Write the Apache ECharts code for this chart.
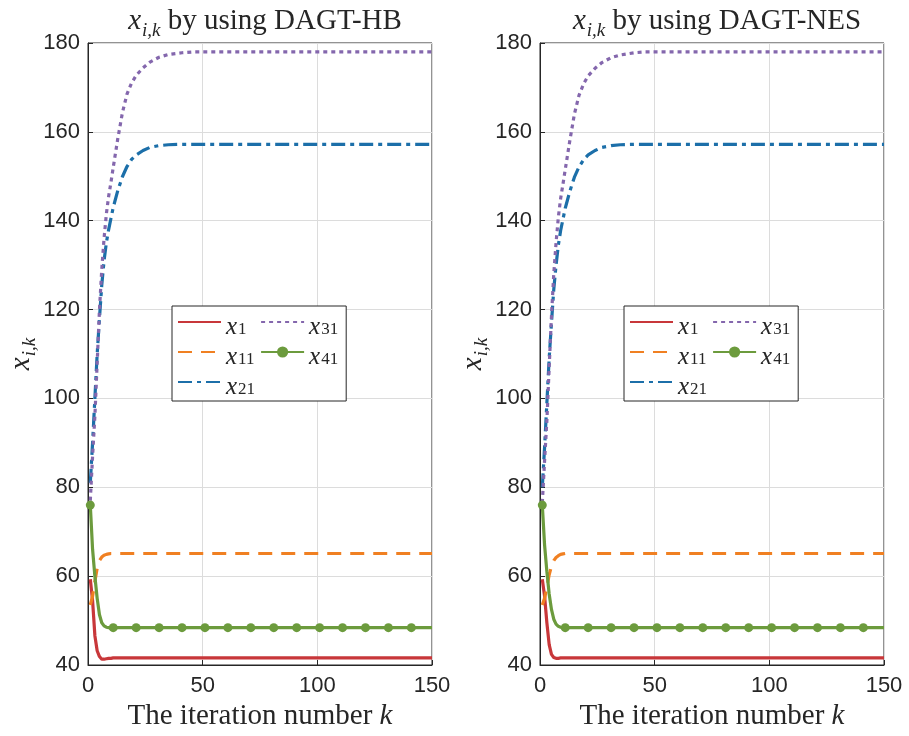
<!DOCTYPE html>
<html>
<head>
<meta charset="utf-8">
<script src="https://cdn.jsdelivr.net/npm/echarts@6/dist/echarts.min.js"></script>
<style>
  html, body { margin: 0; padding: 0; background: #fff; }
  #main { width: 909px; height: 736px; }
</style>
</head>
<body>
<div id="main"></div>
<script>
var kSteps = [1, 2, 3, 4, 5, 6, 7, 8, 9, 10, 11, 13, 15, 17, 19, 21, 24, 27, 31, 35, 41, 46, 51, 61, 71, 81, 91, 101, 111, 121, 131, 141, 150];
// iterations where x41 carries a marker
var markK = [1, 11, 21, 31, 41, 51, 61, 71, 81, 91, 101, 111, 121, 131, 141];

var xTicks = [0, 50, 100, 150];
var yTicks = [40, 60, 80, 100, 120, 140, 160, 180];

// DAGT-HB
var x1HB  = [59.3, 54.5, 46.6, 43.2, 41.9, 41.3, 41.3, 41.4, 41.5, 41.5, 41.6, 41.6, 41.6, 41.6, 41.6, 41.6, 41.6, 41.6, 41.6, 41.6, 41.6, 41.6, 41.6, 41.6, 41.6, 41.6, 41.6, 41.6, 41.6, 41.6, 41.6, 41.6, 41.6];
var x11HB = [53.5, 55.5, 58.8, 61.8, 63.5, 64.3, 64.7, 64.9, 65.0, 65.1, 65.1, 65.1, 65.1, 65.1, 65.1, 65.1, 65.1, 65.1, 65.1, 65.1, 65.1, 65.1, 65.1, 65.1, 65.1, 65.1, 65.1, 65.1, 65.1, 65.1, 65.1, 65.1, 65.1];
var x21HB = [81, 90, 100, 110, 118, 125.5, 131, 135, 138, 140.5, 143, 146.8, 149.9, 152.2, 153.8, 154.8, 155.8, 156.5, 156.9, 157.1, 157.2, 157.2, 157.2, 157.2, 157.2, 157.2, 157.2, 157.2, 157.2, 157.2, 157.2, 157.2, 157.2];
var x31HB = [77, 87, 96, 108, 120, 129, 136, 141.5, 145.5, 148.6, 152, 158.5, 164.3, 168.5, 171, 172.7, 174.4, 175.7, 176.8, 177.4, 177.8, 178, 178, 178, 178, 178, 178, 178, 178, 178, 178, 178, 178];
var x41HB = [76, 66, 60, 55, 51.3, 49.5, 48.8, 48.5, 48.4, 48.4, 48.4, 48.4, 48.4, 48.4, 48.4, 48.4, 48.4, 48.4, 48.4, 48.4, 48.4, 48.4, 48.4, 48.4, 48.4, 48.4, 48.4, 48.4, 48.4, 48.4, 48.4, 48.4, 48.4];

// DAGT-NES
var x1NES  = [59.3, 55.5, 49.5, 44.6, 42.4, 41.7, 41.5, 41.5, 41.6, 41.6, 41.6, 41.6, 41.6, 41.6, 41.6, 41.6, 41.6, 41.6, 41.6, 41.6, 41.6, 41.6, 41.6, 41.6, 41.6, 41.6, 41.6, 41.6, 41.6, 41.6, 41.6, 41.6, 41.6];
var x11NES = [53.5, 55, 57.5, 60.3, 62.3, 63.5, 64.2, 64.6, 64.9, 65.0, 65.1, 65.1, 65.1, 65.1, 65.1, 65.1, 65.1, 65.1, 65.1, 65.1, 65.1, 65.1, 65.1, 65.1, 65.1, 65.1, 65.1, 65.1, 65.1, 65.1, 65.1, 65.1, 65.1];
var x21NES = [80, 89, 99, 109, 117, 124.5, 130, 134.5, 137.8, 140.3, 142.8, 146.6, 149.8, 152.1, 153.7, 154.8, 155.8, 156.5, 156.9, 157.1, 157.2, 157.2, 157.2, 157.2, 157.2, 157.2, 157.2, 157.2, 157.2, 157.2, 157.2, 157.2, 157.2];
var x31NES = [76.5, 86, 95, 107, 118.5, 128, 135, 140.8, 145, 148.2, 151.5, 158, 164, 168.2, 170.8, 172.6, 174.3, 175.6, 176.7, 177.3, 177.8, 178, 178, 178, 178, 178, 178, 178, 178, 178, 178, 178, 178];
var x41NES = [76, 67, 61, 56, 52.5, 50.3, 49.2, 48.7, 48.5, 48.4, 48.4, 48.4, 48.4, 48.4, 48.4, 48.4, 48.4, 48.4, 48.4, 48.4, 48.4, 48.4, 48.4, 48.4, 48.4, 48.4, 48.4, 48.4, 48.4, 48.4, 48.4, 48.4, 48.4];

var names = ['x1', 'x11', 'x21', 'x31', 'x41'];
var colors = ['#c8373a', '#f08022', '#1c6fa9', '#8467ad', '#6c9b3d'];
var dashes = ['solid', [14, 9], [14, 5, 4, 5], [4, 4], 'solid'];

var serif = '"Liberation Serif", "DejaVu Serif", serif';
var sans = '"Liberation Sans", Arial, sans-serif';
var ink = '#262626';

function pairs(arr, marked) {
  return kSteps.map(function (k, i) {
    var item = { value: [k, arr[i]] };
    if (marked) item.symbol = markK.indexOf(k) >= 0 ? 'circle' : 'none';
    return item;
  });
}

// big label text: x with i,k subscript
var bigRich = {
  a: { fontFamily: serif, fontStyle: 'italic', fontWeight: 'normal', fontSize: 29, color: ink, lineHeight: 28, verticalAlign: 'top' },
  b: { fontFamily: serif, fontStyle: 'italic', fontWeight: 'normal', fontSize: 19, color: ink, lineHeight: 19, padding: [14, 0, 0, 1], verticalAlign: 'top' },
  t: { fontFamily: serif, fontWeight: 'normal', fontSize: 29, color: ink, lineHeight: 28, verticalAlign: 'top' }
};
// legend text
var legRich = {
  a: { fontFamily: serif, fontStyle: 'italic', fontSize: 25, color: ink, lineHeight: 14, verticalAlign: 'top' },
  b: { fontFamily: serif, fontSize: 17, color: ink, lineHeight: 14, padding: [6, 0, 0, 1], verticalAlign: 'top' }
};

var gridL = [88, 540];
var panels = [
  { title: 'DAGT-HB', data: [x1HB, x11HB, x21HB, x31HB, x41HB] },
  { title: 'DAGT-NES', data: [x1NES, x11NES, x21NES, x31NES, x41NES] }
];

var option = {
  animation: false,
  backgroundColor: '#fff',
  title: [],
  legend: [],
  grid: [],
  xAxis: [],
  yAxis: [],
  series: []
};

panels.forEach(function (p, g) {
  option.title.push({
    text: '{a|x}{b|i,k}{t| by using ' + p.title + '}',
    left: gridL[g] + 172,
    top: 2,
    textAlign: 'center',
    textStyle: { fontWeight: 'normal', rich: bigRich }
  });
  option.grid.push({
    left: gridL[g], top: 43, width: 344, height: 622,
    show: true, borderColor: ink, borderWidth: 1, backgroundColor: '#fff'
  });
  option.xAxis.push({
    type: 'value', gridIndex: g, min: 0, max: 150, interval: 50,
    name: '{t|The iteration number }{a|k}',
    nameLocation: 'middle', nameGap: 36,
    nameTextStyle: { rich: bigRich },
    axisLine: { show: true, lineStyle: { color: ink, width: 1 } },
    axisTick: { show: true, inside: true, length: 5, lineStyle: { color: ink } },
    axisLabel: { color: ink, fontFamily: sans, fontSize: 22, margin: 10,
      formatter: function (v) { return xTicks.indexOf(v) >= 0 ? String(v) : ''; } },
    splitLine: { show: true, lineStyle: { color: '#dcdcdc', width: 1 } }
  });
  option.yAxis.push({
    type: 'value', gridIndex: g, min: 40, max: 180, interval: 20,
    name: '{a|x}{b|i,k}',
    nameLocation: 'middle', nameGap: 52,
    nameTextStyle: { rich: bigRich },
    axisLine: { show: true, lineStyle: { color: ink, width: 1 } },
    axisTick: { show: true, inside: true, length: 5, lineStyle: { color: ink } },
    axisLabel: { color: ink, fontFamily: sans, fontSize: 22, margin: 8,
      formatter: function (v) { return yTicks.indexOf(v) >= 0 ? String(v) : ''; } },
    splitLine: { show: true, lineStyle: { color: '#dcdcdc', width: 1 } }
  });
  option.legend.push({
    orient: 'vertical',
    left: gridL[g] + 84,
    top: 306,
    height: 92,
    itemWidth: 43,
    itemHeight: 14,
    itemGap: 5,
    padding: [9, 8, 1, 5],
    backgroundColor: '#fff',
    borderColor: ink,
    borderWidth: 1,
    borderRadius: 0,
    data: names.map(function (n, i) {
      return { name: n, itemStyle: i === 4 ? { color: colors[4], borderWidth: 0 } : { opacity: 0 } };
    }),
    formatter: function (n) { return '{a|x}{b|' + n.slice(1) + '}'; },
    textStyle: { rich: legRich },
    selectedMode: false
  });
  p.data.forEach(function (arr, i) {
    option.series.push({
      name: names[i],
      type: 'line',
      xAxisIndex: g,
      yAxisIndex: g,
      data: pairs(arr, i === 4),
      symbol: i === 4 ? 'circle' : 'none',
      symbolSize: 9,
      showSymbol: i === 4,
      z: i === 4 ? 3 : 2,
      itemStyle: { color: colors[i] },
      lineStyle: { color: colors[i], width: 3.2, type: dashes[i], cap: 'butt' },
      emphasis: { disabled: true }
    });
  });
});

var chart = echarts.init(document.getElementById('main'));
chart.setOption(option);
</script>
</body>
</html>
